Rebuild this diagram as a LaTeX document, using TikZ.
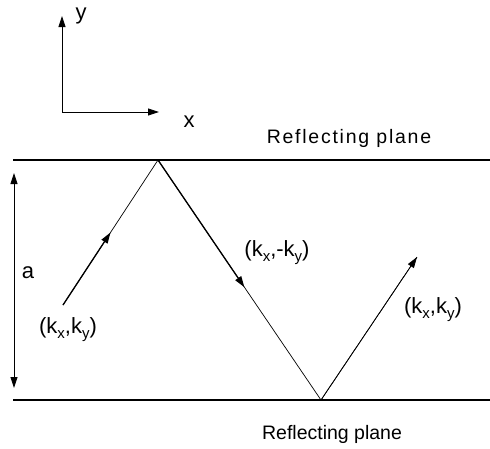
\documentclass[tikz,border=0pt]{standalone}
\usepackage{fontspec}
\setmainfont{Liberation Sans}
\usetikzlibrary{arrows.meta, positioning, calc}
\newcommand{\ksub}[1]{\raisebox{-5pt}{\fontsize{15}{15}\selectfont #1}}
\tikzset{
  plane/.style={line width=2.4pt, black},
  ray/.style={line width=0.7pt, black},
  raybold/.style={line width=1.3pt, black, -{Triangle[length=11pt,width=7pt]}},
  raytip/.style={line width=0.7pt, black, -{Triangle[length=11pt,width=7pt]}},
  axis/.style={line width=0.9pt, black, -{Triangle[length=11pt,width=7pt]}},
  gap/.style={line width=0.9pt, black, {Triangle[length=11pt,width=7pt]}-{Triangle[length=11pt,width=7pt]}},
  lbl/.style={font=\fontsize{22}{24}\selectfont, inner sep=0pt, anchor=base},
  planelbl/.style={font=\fontsize{19.5}{21}\selectfont, inner sep=0pt, anchor=base}
}

\begin{document}
\begin{tikzpicture}[x=1pt, y=-1pt]
  \useasboundingbox (0,0) rectangle (490,448);

  % Axes
  \coordinate (O) at (62,112);
  \coordinate (ytip) at (62,16);
  \coordinate (xtip) at (159,112);
  \draw[axis] (O) -- (ytip);
  \draw[axis] (O) -- (xtip);
  \node[lbl] (ylbl) at (81,19) {y};
  \node[lbl] (xlbl) at (189,127) {x};

  % Planes
  \coordinate (topL) at (13,160);
  \coordinate (topR) at (490,160);
  \coordinate (botL) at (13,400);
  \coordinate (botR) at (490,400);
  \draw[plane] (topL) -- (topR);
  \draw[plane] (botL) -- (botR);
  \node[planelbl, font=\fontsize{19.5}{21}\selectfont\addfontfeature{LetterSpace=9}] (toplbl) at (349,143) {Reflecting plane};
  \node[planelbl] (botlbl) at (332,439) {Reflecting plane};

  % Separation
  \coordinate (gapT) at (14,173);
  \coordinate (gapB) at (14,388);
  \draw[gap] (gapT) -- (gapB);
  \node[lbl] (albl) at (28,278) {a};

  % Rays
  \coordinate (start) at (63,305);
  \coordinate (apex) at (158,160);
  \coordinate (bounce) at (321,400);
  \coordinate (finish) at (417,257);
  \draw[ray] (start) -- (apex) -- (bounce) -- (finish);
  \draw[raybold] (start) -- ($(start)!0.5!(apex)$);
  \draw[raybold] (apex) -- ($(apex)!0.53!(bounce)$);
  \draw[raytip] (bounce) -- (finish);

  % Wave vectors
  \node[lbl] (k1) at (68,333) {(k\ksub{x},k\ksub{y})};
  \node[lbl] (k2) at (277,256) {(k\ksub{x},-k\ksub{y})};
  \node[lbl] (k3) at (433,313) {(k\ksub{x},k\ksub{y})};
\end{tikzpicture}
\end{document}
